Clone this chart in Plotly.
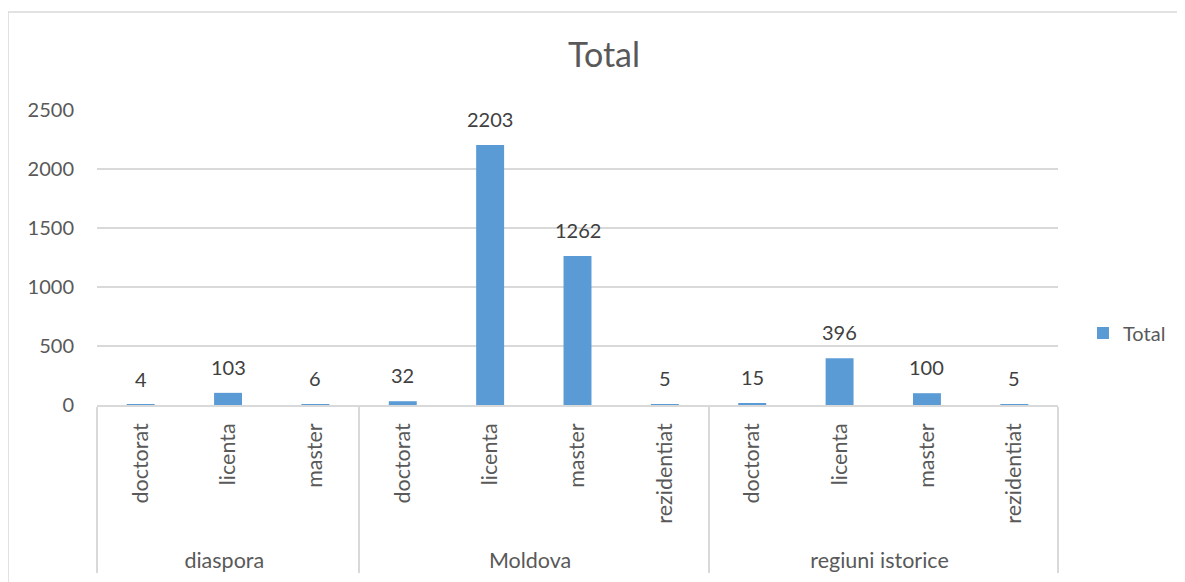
import plotly.graph_objects as go

groups = ["diaspora", "diaspora", "diaspora",
          "Moldova", "Moldova", "Moldova", "Moldova",
          "regiuni istorice", "regiuni istorice", "regiuni istorice", "regiuni istorice"]
levels = ["doctorat", "licenta", "master",
          "doctorat", "licenta", "master", "rezidentiat",
          "doctorat", "licenta", "master", "rezidentiat"]
totals = [4, 103, 6, 32, 2203, 1262, 5, 15, 396, 100, 5]
y_ticks = [0, 500, 1000, 1500, 2000, 2500]

font_name = "Lato, 'Open Sans', sans-serif"
grey = "#595959"
bar_color = "#5B9BD5"

# plot area in figure pixels (page body adds an 8px offset in the screenshot)
left, top, right, bottom = 89, 102, 1050, 397
pw, ph = right - left, bottom - top

# leading no-break spaces give the rotated labels more room, so the group row sits lower
level_labels = ["\u00a0\u00a0" + l for l in levels]

fig = go.Figure()
fig.add_trace(go.Bar(
    x=[groups, level_labels],
    y=totals,
    name="Total",
    marker=dict(color=bar_color, line=dict(width=0)),
))

# data labels sit a bit above each bar, like Excel does it
for i, v in enumerate(totals):
    fig.add_annotation(x=i, y=v, text=str(v), showarrow=False,
                       xref="x", yref="y", yanchor="bottom", yshift=12,
                       font=dict(size=20, color="#404040", family=font_name))

fig.update_layout(
    width=1185, height=582,
    margin=dict(l=left, r=1185 - right, t=top, b=582 - bottom),
    paper_bgcolor="white", plot_bgcolor="white",
    font=dict(family=font_name, size=20, color=grey),
    title=dict(text="Total", x=(596 - left) / pw, xref="paper", xanchor="center",
               y=1 - 47 / 582, yanchor="middle", font=dict(size=34, color=grey)),
    bargap=0.68,
    showlegend=True,
    legend=dict(x=1.026, y=(bottom - 325) / ph, xanchor="left", yanchor="middle",
                font=dict(size=20, color=grey), itemwidth=30),
    xaxis=dict(type="multicategory", tickangle=-90, showline=True, linecolor="#D9D9D9",
               linewidth=1.5, ticks="", showdividers=True, dividercolor="#D9D9D9",
               dividerwidth=1.5, ticklabelstandoff=8, tickfont=dict(size=21.5, color=grey)),
    yaxis=dict(range=[0, 2500], tickvals=y_ticks, showgrid=True, gridcolor="#D9D9D9",
               gridwidth=1.5, zeroline=False, showline=False, ticks="",
               ticklabelstandoff=22, tickfont=dict(size=20, color=grey)),
)

fig.add_shape(type="rect", xref="paper", yref="paper",
              x0=(0 - left) / pw, x1=(1200 - left) / pw,
              y0=(bottom - 600) / ph, y1=(bottom - 4) / ph,
              line=dict(color="#D9D9D9", width=1.5), fillcolor="rgba(0,0,0,0)", layer="below")

fig.write_html("out.html")
